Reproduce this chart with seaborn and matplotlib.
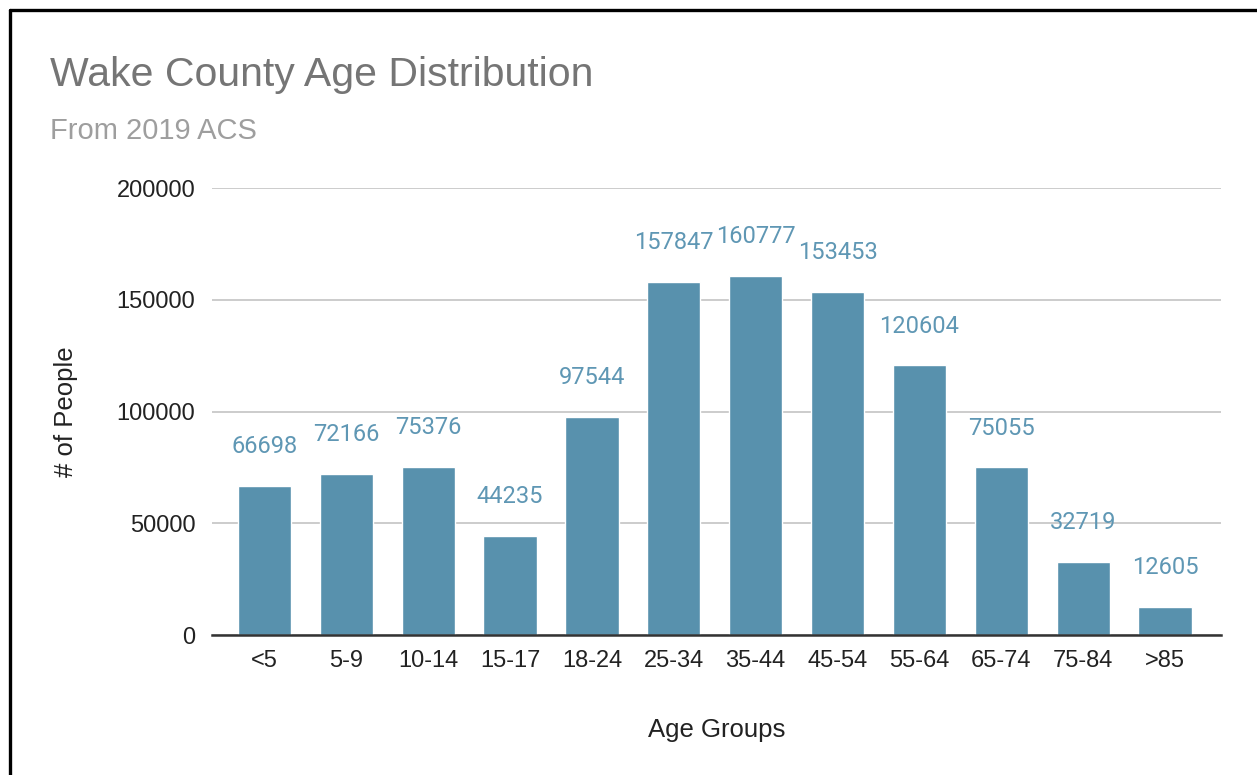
import numpy as np
import pandas as pd
import seaborn as sns
import matplotlib.pyplot as plt
from matplotlib.lines import Line2D

# age groups and population counts (2019 ACS, Wake County)
age_groups = ["<5", "5-9", "10-14", "15-17", "18-24", "25-34", "35-44",
              "45-54", "55-64", "65-74", "75-84", ">85"]
people = [66698, 72166, 75376, 44235, 97544, 157847, 160777,
          153453, 120604, 75055, 32719, 12605]
y_ticks = [0, 50000, 100000, 150000, 200000]

df = pd.DataFrame({"age": age_groups, "people": people})

sns.set_theme(style="white")
plt.rcParams['font.family'] = ['Liberation Sans', 'DejaVu Sans']

bar_color = "#5891ad"

fig = plt.figure(figsize=(12.57, 7.75), dpi=100)
ax = fig.add_axes([0.1687, 0.1806, 0.9711 - 0.1687, 0.7574 - 0.1806])

sns.barplot(data=df, x="age", y="people", color=bar_color, width=0.65,
            saturation=1, ax=ax, zorder=3)

# data labels above bars
for i, v in enumerate(people):
    ax.annotate(str(v), (i, v), xytext=(0, 20), textcoords="offset points",
                ha="center", va="bottom", fontsize=17, color="#5f97b4",
                family=["Roboto", "DejaVu Sans"])

ax.set_ylim(0, 200000)
ax.set_xlim(-0.64, 11.68)
ax.set_yticks(y_ticks)
ax.set_yticklabels([str(t) for t in y_ticks])
ax.yaxis.grid(True, color="#cccccc", linewidth=1.4, zorder=0)
ax.xaxis.grid(False)
for s in ["top", "right", "left"]:
    ax.spines[s].set_visible(False)
ax.spines["bottom"].set_color("#333333")
ax.spines["bottom"].set_linewidth(1.8)
ax.spines["bottom"].set_zorder(4)
ax.tick_params(axis="y", length=0, pad=12, labelsize=17, labelcolor="#222222")
ax.tick_params(axis="x", length=0, pad=11, labelsize=17, labelcolor="#222222")

ax.set_xlabel("Age Groups", fontsize=18.5, color="#222222", labelpad=33)
ax.set_ylabel("# of People", fontsize=18.5, color="#222222", labelpad=28)

fig.text(50 / 1257, 1 - 75 / 775, "Wake County Age Distribution",
         fontsize=29.5, color="#757575", va="center", ha="left")
fig.text(50 / 1257, 1 - 131 / 775, "From 2019 ACS",
         fontsize=21, color="#9e9e9e", va="center", ha="left")

# black frame on left and top of the screenshot
fig.add_artist(Line2D([9.5 / 1257, 9.5 / 1257], [0, 1 - 9.5 / 775],
                      transform=fig.transFigure, color="black", linewidth=2.4))
fig.add_artist(Line2D([9.5 / 1257, 1], [1 - 9.5 / 775, 1 - 9.5 / 775],
                      transform=fig.transFigure, color="black", linewidth=2.4))

plt.savefig("out.png", dpi=100)
